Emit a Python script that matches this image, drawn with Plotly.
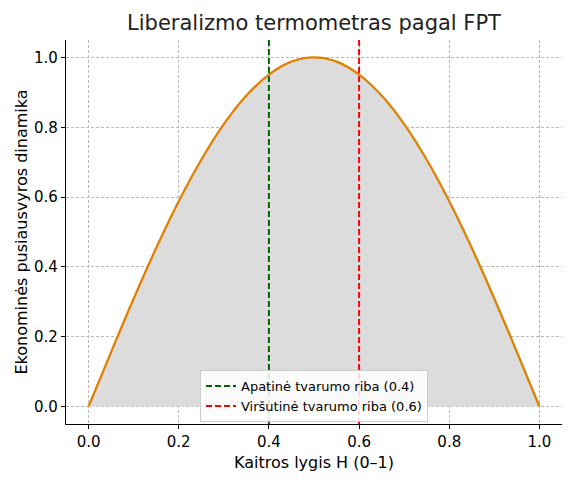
import plotly.graph_objects as go

# Data
h_values = [0.0, 0.05, 0.1, 0.15, 0.2, 0.25, 0.3, 0.35, 0.4, 0.45, 0.5,
            0.55, 0.6, 0.65, 0.7, 0.75, 0.8, 0.85, 0.9, 0.95, 1.0]
dynamics = [0.0, 0.156, 0.309, 0.454, 0.588, 0.707, 0.809, 0.891, 0.951, 0.988, 1.0,
            0.988, 0.951, 0.891, 0.809, 0.707, 0.588, 0.454, 0.309, 0.156, 0.0]
lower_limit = 0.4
upper_limit = 0.6
lower_label = "Apatinė tvarumo riba (0.4)"
upper_label = "Viršutinė tvarumo riba (0.6)"
x_ticks = [0.0, 0.2, 0.4, 0.6, 0.8, 1.0]
y_ticks = [0.0, 0.2, 0.4, 0.6, 0.8, 1.0]

y_range = [-0.05, 1.05]
x_range = [-0.05, 1.05]

fig = go.Figure()

fig.add_trace(go.Scatter(
    x=h_values, y=dynamics, mode="lines", line=dict(color="rgba(0,0,0,0)", width=0, shape="spline"),
    fill="tozeroy", fillcolor="#dcdcdc", showlegend=False, hoverinfo="skip"))

fig.add_trace(go.Scatter(
    x=[lower_limit, lower_limit], y=y_range, mode="lines",
    line=dict(color="#006400", width=2, dash="6px,3px"), name=lower_label))
fig.add_trace(go.Scatter(
    x=[upper_limit, upper_limit], y=y_range, mode="lines",
    line=dict(color="#ff0000", width=2, dash="6px,3px"), name=upper_label))

fig.add_trace(go.Scatter(
    x=h_values, y=dynamics, mode="lines",
    line=dict(color="#e08000", width=2.3, shape="spline"), showlegend=False))

axis_common = dict(
    showgrid=True, gridcolor="#b8b8b8", griddash="3px,2px", gridwidth=0.8,
    zeroline=False, showline=True, linecolor="#000000", linewidth=1.2,
    ticks="outside", ticklen=4, tickcolor="#000000",
    tickfont=dict(family="DejaVu Sans", size=15, color="#000000"),
)

fig.update_layout(
    width=576, height=480,
    margin=dict(l=66, r=14, t=40, b=56),
    paper_bgcolor="white", plot_bgcolor="white",
    title=dict(text="Liberalizmo termometras pagal FPT", xref="paper", x=0.5, xanchor="center",
               y=1 - 23 / 480, yanchor="middle",
               font=dict(family="DejaVu Sans", size=21, color="#222222")),
    xaxis=dict(range=x_range, tickvals=x_ticks, tickformat=".1f",
               title=dict(text="Kaitros lygis H (0–1)", font=dict(family="DejaVu Sans", size=16, color="#000000"), standoff=6),
               **axis_common),
    yaxis=dict(range=y_range, tickvals=y_ticks, tickformat=".1f",
               title=dict(text="Ekonominės pusiausvyros dinamika", font=dict(family="DejaVu Sans", size=16, color="#000000"), standoff=2),
               **axis_common),
    legend=dict(x=0.5, xanchor="center", y=0.005, yanchor="bottom",
                bgcolor="rgba(255,255,255,0.85)", bordercolor="#cccccc", borderwidth=1,
                font=dict(family="DejaVu Sans", size=13, color="#000000"), tracegroupgap=0),
    showlegend=True,
)

fig.write_html("out.html")
